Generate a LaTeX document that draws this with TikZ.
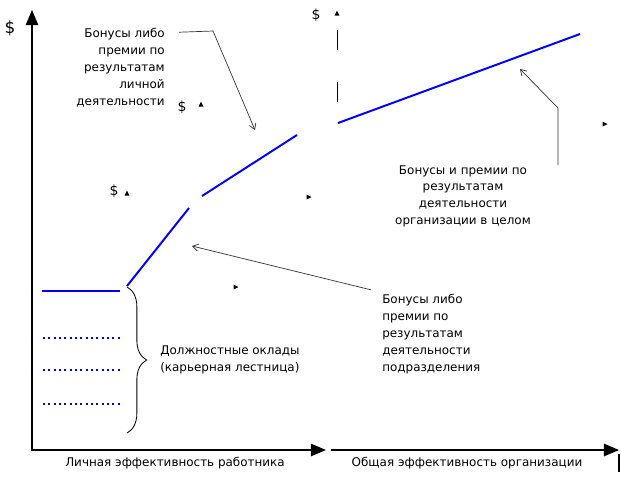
\documentclass[tikz,border=0pt]{standalone}
\usepackage{fontspec}
\setmainfont{DejaVu Sans}
\usetikzlibrary{
    arrows,
    arrows.meta,
    decorations.pathreplacing,
    positioning
}

\begin{document}
\begin{tikzpicture}[x=0.025cm, y=-0.025cm, font=\fontsize{8.5}{12}\selectfont,
    axis/.style={line width=1.5pt, -triangle 45},
    pay/.style={blue, line width=1.4pt},
    grade/.style={blue, line width=1.4pt, dash pattern=on 1.4pt off 2.4pt},
    note/.style={line width=0.5pt, black!80, -{Straight Barb[length=4pt, width=5pt]}},
    txt/.style={inner sep=0pt},
    cash/.style={inner sep=0pt, font=\fontsize{10}{10}\selectfont}]
    \useasboundingbox (0, 0) rectangle (621, 476);

    % axes
    \coordinate (o) at (32, 450);
    \coordinate (ytop) at (32, 10);
    \coordinate (xmid) at (326, 450);
    \coordinate (xstart) at (331, 450);
    \coordinate (xend) at (619, 450);
    \draw[axis] (o) -- (ytop);
    \draw[axis] ([xshift=-1pt]o) -- (xmid);
    \draw[axis] (xstart) -- (xend);
    \draw[line width=1.5pt] (619, 454) -- (619, 472);
    \node[cash, font=\fontsize{12}{12}\selectfont] (ylab) at (10, 28) {\$};
    \node[txt] (xlab1) at (175, 463) {Личная эффективность работника};
    \node[txt] (xlab2) at (467, 463) {Общая эффективность организации};

    % salary grades
    \draw[pay] (42, 291) -- (120, 291);
    \foreach \y in {338, 370, 404}
        \draw[grade] (43, \y) -- (120, \y);
    \draw[decorate, decoration={brace, amplitude=14pt}, line width=0.6pt]
        (127, 287) -- (127, 433);
    \node[txt, anchor=west, align=left] (salary) at (160, 360)
        {Должностные оклады\\(карьерная лестница)};

    % bonus lines
    \coordinate (a1) at (127, 286);
    \coordinate (a2) at (189, 208);
    \coordinate (b1) at (202, 196);
    \coordinate (b2) at (297, 135);
    \coordinate (c1) at (338, 123);
    \coordinate (c2) at (580, 34);
    \draw[pay] (a1) -- (a2);
    \draw[pay] (b1) -- (b2);
    \draw[pay] (c1) -- (c2);

    % notes
    \node[txt, anchor=north east, align=right] (pers) at (165, 28)
        {Бонусы либо\\премии по\\результатам\\личной\\деятельности};
    \node[txt, anchor=north west, align=left] (dept) at (382, 294)
        {Бонусы либо\\премии по\\результатам\\деятельности\\подразделения};
    \node[txt, anchor=north, align=center] (org) at (463, 165)
        {Бонусы и премии по\\результатам\\деятельности\\организации в целом};
    \coordinate (perstip) at (255, 130);
    \coordinate (depttip) at (192, 246);
    \coordinate (orgtip) at (520, 69);
    \draw[note] ([xshift=10pt, yshift=-3pt]pers.north east) -- (213, 31) -- (perstip);
    \draw[note] ([xshift=-8pt, yshift=3pt]dept.north west) -- (depttip);
    \draw[note] (558, 165) -- (558, 108) -- (orgtip);

    % stray marks
    \foreach \x/\y in {182/107, 114/191, 316/15}
        \node[cash] at (\x, \y) {\$};
    \foreach \x/\y in {201/104, 127/193, 337/13}
        \fill (\x, \y) ++(-2.5, 2.5) -- ++(5, 0) -- ++(-2.5, -5) -- cycle;
    \foreach \x/\y in {309/197, 605/124, 236/287}
        \fill (\x, \y) ++(-2.5, -2.5) -- ++(0, 5) -- ++(5, -2.5) -- cycle;
    \draw[line width=0.7pt] (337, 30) -- (337, 50);
    \draw[line width=0.7pt] (337, 82) -- (337, 102);
\end{tikzpicture}
\end{document}
